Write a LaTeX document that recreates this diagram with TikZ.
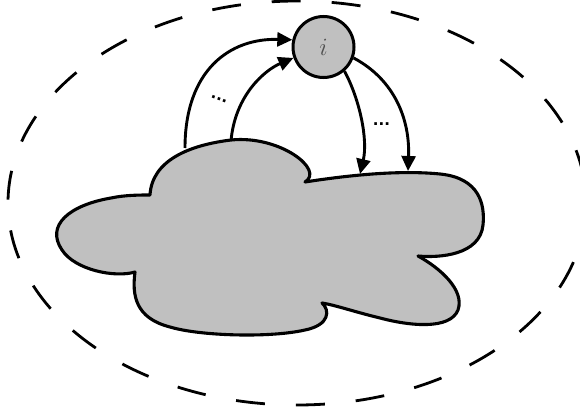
\documentclass[tikz,border=0pt]{standalone}
\usepackage{fontspec}
\newfontfamily\dotsfont{DejaVu Sans}
\usetikzlibrary{arrows.meta}
\definecolor{cloudgray}{RGB}{192,192,192}
\definecolor{labelgray}{RGB}{80,80,80}
\tikzset{
  flow/.style={line width=2.9pt,-{Triangle[length=15pt,width=14pt]}},
  cloudline/.style={line width=3.1pt,fill=cloudgray,line join=round},
  agent/.style={circle,draw,line width=3pt,fill=cloudgray,minimum size=61pt,inner sep=0pt,font=\fontsize{24.88}{28}\selectfont,text=labelgray},
  dotslabel/.style={font=\dotsfont\fontsize{15}{18}\selectfont\bfseries,inner sep=0pt}
}
\begin{document}
\begin{tikzpicture}[x=1pt,y=-1pt]
\useasboundingbox (0,0) rectangle (580,414);
% dashed boundary
\draw[line width=2.8pt,dash pattern=on 29pt off 31pt,dash phase=35pt] (297,203) ellipse [x radius=289pt,y radius=202pt];
% cloud
\draw[cloudline]
  (150,195) .. controls (152,160) and (190,145) .. (231,140)
  .. controls (280,135) and (325,170) .. (305,182)
  .. controls (350,175) and (400,170) .. (440,174)
  .. controls (480,178) and (485,205) .. (483,225)
  .. controls (480,255) and (440,258) .. (418,256)
  .. controls (440,268) and (465,290) .. (458,310)
  .. controls (450,330) and (410,326) .. (380,318)
  .. controls (355,312) and (335,305) .. (322,303)
  .. controls (330,310) and (330,325) .. (305,330)
  .. controls (270,338) and (200,336) .. (170,327)
  .. controls (135,318) and (132,295) .. (135,272)
  .. controls (115,278) and (75,270) .. (62,250)
  .. controls (45,225) and (70,205) .. (111,198)
  .. controls (125,195) and (140,195) .. cycle;
% agent
\node[agent] (i) at (323.5,47) {$i$};
% endpoints on cloud
\coordinate (a1) at (185,148);
\coordinate (a2) at (231,141);
\coordinate (b1) at (360,174);
\coordinate (b2) at (408,171);
% arrows
\draw[flow] (a1) .. controls (185,70) and (230,38) .. (i.167);
\draw[flow] (a2) .. controls (235,95) and (265,70) .. (i.200);
\draw[flow] (i.-49) .. controls (360,100) and (368,140) .. (b1);
\draw[flow] (i.-20) .. controls (395,80) and (410,120) .. (b2);
% labels
\node[dotslabel,rotate=-20] (d1) at (219,99) {...};
\node[dotslabel] (d2) at (381.5,124) {...};
\end{tikzpicture}
\end{document}
